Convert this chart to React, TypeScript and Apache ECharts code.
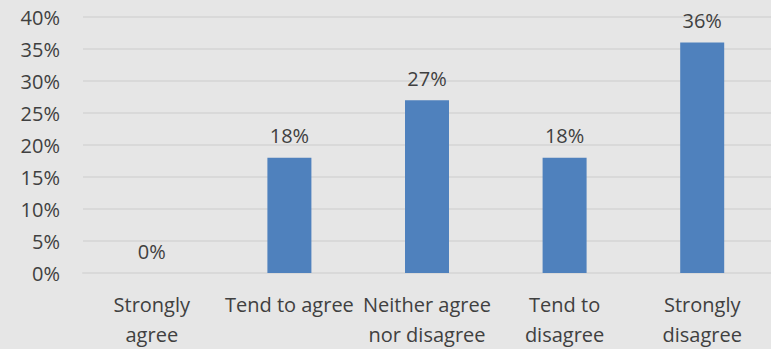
import React, { useEffect, useRef } from "react";
import * as echarts from "echarts";

const categories = [
  "Strongly\nagree",
  "Tend to agree",
  "Neither agree\nnor disagree",
  "Tend to\ndisagree",
  "Strongly\ndisagree",
];
const values = [0, 18, 27, 18, 36];

export default function App() {
  const ref = useRef<HTMLDivElement>(null);
  useEffect(() => {
    document.body.style.margin = "0";
    document.body.style.overflow = "hidden";
    const chart = echarts.init(ref.current!, null, { renderer: "svg" });
    const font = "'Open Sans', sans-serif";
    chart.setOption({
      animation: false,
      backgroundColor: "#e6e6e6",
      grid: { left: 83, width: 700, top: 17, height: 259, containLabel: false },
      xAxis: {
        type: "category",
        data: categories,
        axisLine: { show: true, lineStyle: { color: "#d9d9d9", width: 2 } },
        axisTick: { show: false },
        axisLabel: {
          interval: 0,
          color: "#404040",
          fontFamily: font,
          fontSize: 20,
          lineHeight: 30,
          margin: 16,
        },
      },
      yAxis: {
        type: "value",
        min: 0,
        max: 40,
        interval: 5,
        axisLine: { show: false },
        axisTick: { show: false },
        splitLine: { lineStyle: { color: "#d9d9d9", width: 2 } },
        axisLabel: {
          formatter: "{value}%",
          color: "#404040",
          fontFamily: font,
          fontSize: 20,
          margin: 23,
        },
      },
      series: [
        {
          type: "bar",
          data: values,
          barWidth: 44,
          itemStyle: { color: "#4f81bd" },
          label: {
            show: true,
            position: "top",
            formatter: "{c}%",
            color: "#404040",
            fontFamily: font,
            fontSize: 20,
            distance: 12,
          },
        },
      ],
    });
    return () => chart.dispose();
  }, []);
  return (
    <div
      style={{
        position: "fixed",
        left: 0,
        top: 0,
        width: 771,
        height: 349,
        overflow: "hidden",
      }}
    >
      <div ref={ref} style={{ width: 771, height: 349 }} />
    </div>
  );
}
